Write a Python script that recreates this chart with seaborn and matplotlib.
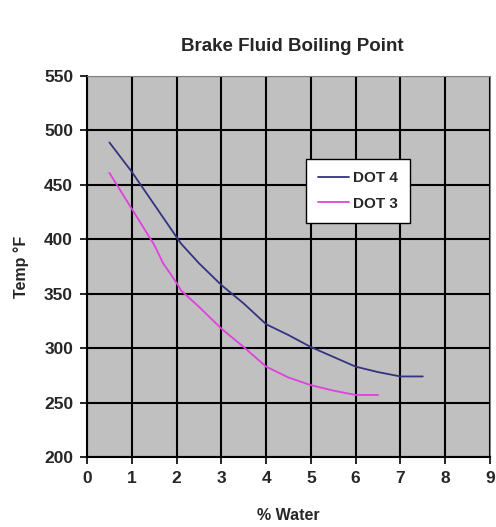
import matplotlib
matplotlib.use("Agg")
import matplotlib.pyplot as plt
import pandas as pd
import seaborn as sns

water_dot4 = [0.5, 1.0, 1.5, 2.0, 2.1, 2.5, 3.0, 3.5, 4.0, 4.5, 5.0, 5.5, 6.0, 6.5, 7.0, 7.5]
temp_dot4 = [489, 462, 432, 402, 396, 378, 358, 341, 322, 312, 301, 292, 283, 278, 274, 274]

water_dot3 = [0.5, 1.0, 1.5, 1.7, 2.0, 2.1, 2.5, 3.0, 3.5, 4.0, 4.5, 5.0, 5.5, 6.0, 6.5]
temp_dot3 = [461, 428, 395, 378, 360, 353, 338, 318, 301, 283, 273, 266, 261, 257, 257]

df = pd.concat([
    pd.DataFrame({"water": water_dot4, "temp": temp_dot4, "fluid": "DOT 4"}),
    pd.DataFrame({"water": water_dot3, "temp": temp_dot3, "fluid": "DOT 3"}),
])

sns.set_style("ticks")
plt.rcParams['font.family'] = ['Liberation Sans', 'DejaVu Sans']

fig = plt.figure(figsize=(4.96, 5.27), dpi=100)
ax = fig.add_axes([87 / 496, 1 - 457 / 527, 403 / 496, 381 / 527])
ax.set_facecolor("#C0C0C0")

sns.lineplot(data=df, x="water", y="temp", hue="fluid",
             palette={"DOT 4": "#333380", "DOT 3": "#E040E0"},
             linewidth=1.3, ax=ax, sort=False, estimator=None)

ax.set_xlim(0, 9)
ax.set_ylim(200, 550)
ax.set_xticks(range(0, 10))
ax.set_yticks(range(200, 551, 50))
ax.grid(True, color="black", linewidth=1.5)
ax.set_axisbelow(True)

for side in ["top", "right"]:
    ax.spines[side].set_color("#808080")
    ax.spines[side].set_linewidth(0.8)
for side in ["left", "bottom"]:
    ax.spines[side].set_color("black")
    ax.spines[side].set_linewidth(1.5)

ax.tick_params(axis="both", length=5, width=1.2, color="black", labelsize=12.5, pad=5)
for lbl in ax.get_xticklabels() + ax.get_yticklabels():
    lbl.set_fontweight("bold")

ax.set_xlabel("% Water", fontsize=11.5, fontweight="bold", labelpad=16)
ax.set_ylabel("Temp °F", fontsize=11.5, fontweight="bold", labelpad=11)
fig.suptitle("Brake Fluid Boiling Point", x=0.59, y=0.927, fontsize=13.5, fontweight="bold")

leg = ax.legend(loc="upper left", bbox_to_anchor=(219 / 403, 1 - 83 / 381),
                borderaxespad=0, frameon=True, fancybox=False, framealpha=1,
                edgecolor="black", prop={"weight": "bold", "size": 11},
                handlelength=2.0, handletextpad=0.3, borderpad=0.8, labelspacing=0.75)
leg.get_frame().set_linewidth(1.0)

fig.savefig("out.png", dpi=100)
